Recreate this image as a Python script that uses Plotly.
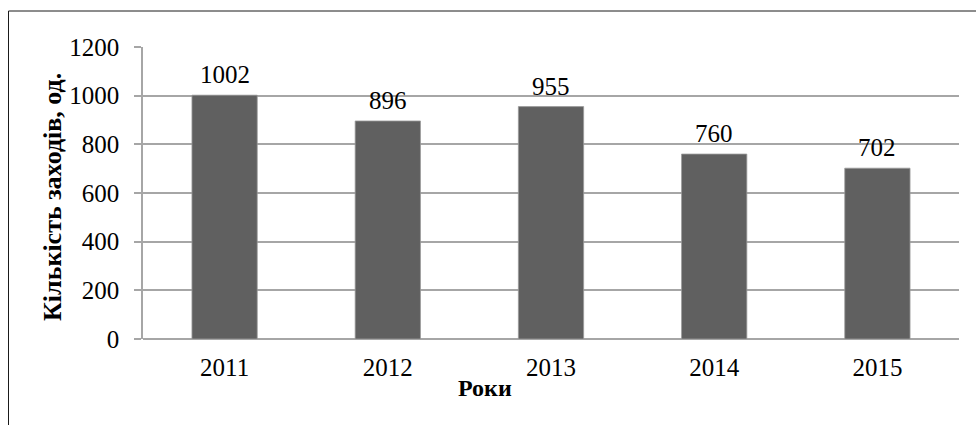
import plotly.graph_objects as go

years = ["2011", "2012", "2013", "2014", "2015"]
values = [1002, 896, 955, 760, 702]
y_ticks = [0, 200, 400, 600, 800, 1000, 1200]

W, H = 976, 425
L, R, T, B = 143, 17, 47, 86
pw, ph = W - L - R, H - T - B

def px_x(x):
    return (x - L) / pw

def px_y(y):
    return (H - B - y) / ph

FONT = "Liberation Serif"
GRID = "#a6a6a6"
TICK_SIZE = 25

fig = go.Figure()
fig.add_trace(go.Bar(
    x=years, y=values,
    marker=dict(color="#606060", line=dict(color="#9a9a9a", width=0.8)),
    hoverinfo="skip",
))

for i, v in enumerate(values):
    fig.add_annotation(x=i, y=v, text=str(v), showarrow=False,
                       yanchor="bottom", yshift=5,
                       font=dict(family=FONT, size=TICK_SIZE, color="#000"))

fig.add_annotation(xref="paper", yref="paper", x=px_x(485), y=px_y(388),
                   text="<b>Роки</b>", showarrow=False,
                   xanchor="center", yanchor="middle",
                   font=dict(family=FONT, size=24, color="#000"))

fig.add_annotation(xref="paper", yref="paper", x=px_x(52), y=px_y(197),
                   text="<b>Кількість заходів, од.</b>", showarrow=False,
                   textangle=-90, xanchor="center", yanchor="middle",
                   font=dict(family=FONT, size=26, color="#000"))

# outer chart border (top and left edges visible)
fig.add_shape(type="path", xref="paper", yref="paper",
              path=f"M {px_x(977)} {px_y(11)} L {px_x(8.5)} {px_y(11)} L {px_x(8.5)} {px_y(430)}",
              line=dict(color="#1a1a1a", width=1))

fig.update_layout(
    width=W, height=H,
    margin=dict(l=L, r=R, t=T, b=B),
    paper_bgcolor="white", plot_bgcolor="white",
    bargap=0.6, showlegend=False,
    font=dict(family=FONT, color="#000"),
    xaxis=dict(
        type="category", range=[-0.5, len(years) - 0.5],
        tickfont=dict(family=FONT, size=TICK_SIZE, color="#000"),
        ticks="", showgrid=False, showline=False, zeroline=False,
        ticklabelstandoff=11,
    ),
    yaxis=dict(
        range=[0, 1200], tickvals=y_ticks,
        tickfont=dict(family=FONT, size=TICK_SIZE, color="#000"),
        ticks="outside", ticklen=7, tickcolor=GRID, tickwidth=1.5,
        showgrid=True, gridcolor=GRID, gridwidth=1.5,
        showline=True, linecolor=GRID, linewidth=1.5,
        zeroline=True, zerolinecolor=GRID, zerolinewidth=1.5,
        ticklabelstandoff=10,
    ),
)

fig.write_html("out.html", config={"displayModeBar": False},
               post_script="document.body.style.margin='0';")
